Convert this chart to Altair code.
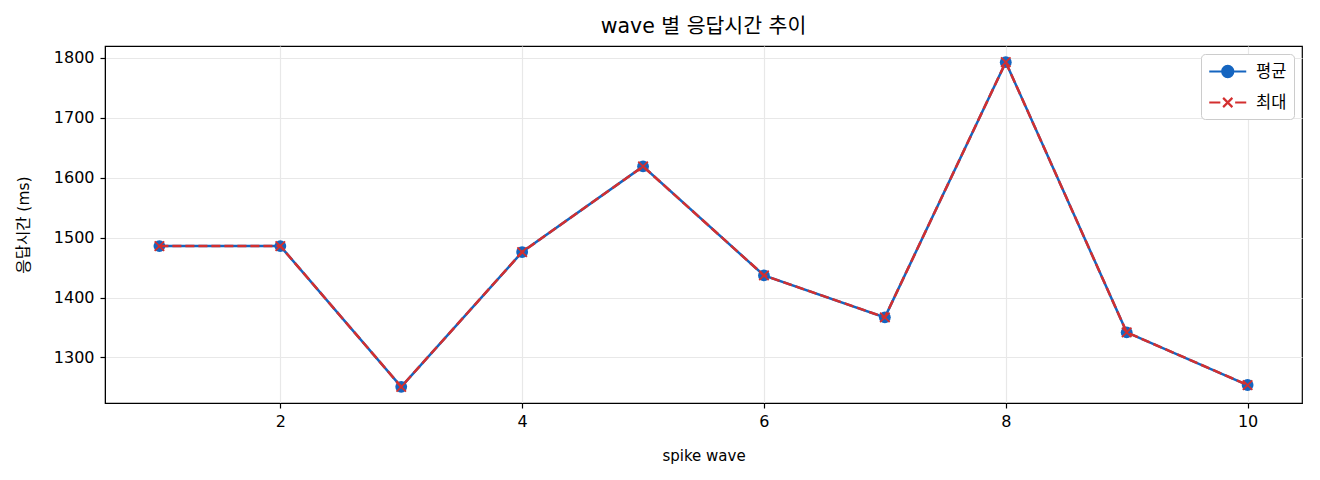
import pandas as pd
import altair as alt

# Data
waves = [1, 2, 3, 4, 5, 6, 7, 8, 9, 10]
avg_ms = [1486, 1486, 1251, 1476, 1619, 1437, 1367, 1793, 1342, 1254]
max_ms = [1486, 1486, 1251, 1476, 1619, 1437, 1367, 1793, 1342, 1254]
series_names = ['평균', '최대']
x_ticks = [2, 4, 6, 8, 10]
y_ticks = [1300, 1400, 1500, 1600, 1700, 1800]

FONT = 'DejaVu Sans, Noto Sans CJK KR'
BLUE = '#1565C0'
RED = '#D32F2F'

# Legend symbols: line + marker drawn as one custom path each
LEGEND_SOLID_DOT = 'M-1,0H3M1.6,0A0.6,0.6,0,1,1,0.4,0A0.6,0.6,0,1,1,1.6,0Z'
LEGEND_DASH_X = 'M-1,0H0.2M1.8,0H3M0.5,-0.5L1.5,0.5M0.5,0.5L1.5,-0.5'
X_MARKER = 'M-1,-1L1,1M-1,1L1,-1'

df = pd.concat([
    pd.DataFrame({'wave': waves, 'ms': avg_ms, 'series': series_names[0]}),
    pd.DataFrame({'wave': waves, 'ms': max_ms, 'series': series_names[1]}),
])

x_enc = alt.X('wave:Q', title='spike wave',
              scale=alt.Scale(domain=[0.55, 10.45], nice=False, zero=False),
              axis=alt.Axis(values=x_ticks, format='d', labelPadding=5,
                            titlePadding=19))
y_enc = alt.Y('ms:Q', title='응답시간 (ms)',
              scale=alt.Scale(domain=[1224, 1820], nice=False, zero=False),
              axis=alt.Axis(values=y_ticks, format='d', labelPadding=6,
                            titlePadding=22, titleFontSize=15.5))
color_scale = alt.Scale(domain=series_names, range=[BLUE, RED])

base = alt.Chart(df).encode(x=x_enc, y=y_enc)

avg_line = base.transform_filter(alt.datum.series == series_names[0]).mark_line(
    color=BLUE, strokeWidth=2.5)
avg_pts = base.transform_filter(alt.datum.series == series_names[0]).mark_point(
    filled=True, color=BLUE, size=140, opacity=1)
max_line = base.transform_filter(alt.datum.series == series_names[1]).mark_line(
    color=RED, strokeWidth=2.5, strokeDash=[9, 4])
max_pts = base.transform_filter(alt.datum.series == series_names[1]).mark_point(
    shape=X_MARKER, filled=False, color=RED, size=90, strokeWidth=1.8, opacity=1)

# Legend-only layer: no marks drawn, entries come from the scale domain
legend_layer = base.transform_filter('false').mark_point(opacity=1).encode(
    fill=alt.Fill('series:N', scale=color_scale,
                  legend=alt.Legend(title=None, orient='top-right')),
    stroke=alt.Stroke('series:N', scale=color_scale,
                      legend=alt.Legend(title=None, orient='top-right')),
    shape=alt.Shape('series:N',
                    scale=alt.Scale(domain=series_names,
                                    range=[LEGEND_SOLID_DOT, LEGEND_DASH_X]),
                    legend=alt.Legend(title=None, orient='top-right')),
)

chart = alt.layer(avg_line, avg_pts, max_line, max_pts, legend_layer).properties(
    width=1197,
    height=357,
    padding={'left': 97, 'top': 38, 'right': 10, 'bottom': 69},
    autosize=alt.AutoSizeParams(type='none'),
    title=alt.Title('wave 별 응답시간 추이', font=FONT, fontSize=20.5,
                    fontWeight='normal', color='black', offset=9),
).configure_view(
    stroke='black', strokeWidth=1.2
).configure_axis(
    labelFont=FONT, titleFont=FONT, labelFontSize=16, titleFontSize=15,
    titleFontWeight='normal', labelColor='black', titleColor='black',
    domainColor='black', tickColor='black', tickSize=5, tickWidth=1.2,
    gridColor='#e8e8e8', gridWidth=1.2
).configure_legend(
    labelFont=FONT, labelFontSize=16.5, labelColor='black',
    symbolSize=342, symbolStrokeWidth=2.2, labelOffset=27,
    padding=7, rowPadding=10, offset=8,
    fillColor='white', strokeColor='#cccccc', cornerRadius=4
)

chart.save('out.html', embed_options={'renderer': 'svg', 'actions': False})
